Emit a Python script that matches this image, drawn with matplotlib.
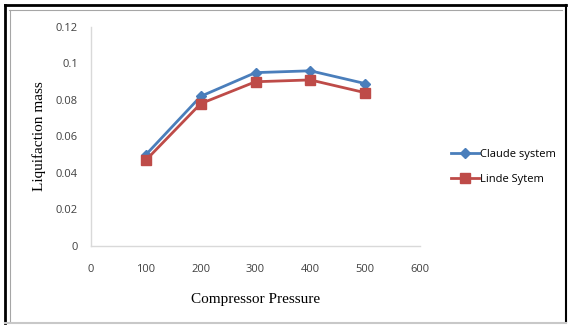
import matplotlib
matplotlib.use('Agg')
import matplotlib.pyplot as plt
from matplotlib.lines import Line2D

# data
pressure = [100, 200, 300, 400, 500]
claude = [0.050, 0.082, 0.095, 0.096, 0.089]
linde = [0.047, 0.078, 0.090, 0.091, 0.084]
x_ticks = [0, 100, 200, 300, 400, 500, 600]
y_ticks = [0, 0.02, 0.04, 0.06, 0.08, 0.1, 0.12]
y_tick_labels = ['0', '0.02', '0.04', '0.06', '0.08', '0.1', '0.12']

blue = '#4A7EBB'
red = '#BE4B48'
grey = '#D9D9D9'

W, H = 569, 326
fig = plt.figure(figsize=(W / 100, H / 100), dpi=100)


def fline(x0, y0, x1, y1, **kw):
    # line in pixel coords (origin top-left)
    fig.lines.append(Line2D([x0 / W, x1 / W], [1 - y0 / H, 1 - y1 / H],
                            transform=fig.transFigure, **kw))


# outer black frame (top, left, right) and grey bottom
fline(4.5, 5, 566, 5, color='black', linewidth=2)
fline(5, 5, 5, 323, color='black', linewidth=2)
fline(566, 5, 566, 322, color='black', linewidth=1.5)
fline(4.5, 322.5, 566, 322.5, color='#C8C8C8', linewidth=1.5)
# inner grey frame
fline(9, 10, 562, 10, color='#A6A6A6', linewidth=0.8)
fline(9.5, 10, 9.5, 321, color='#A6A6A6', linewidth=0.8)

ax = fig.add_axes([91 / W, 1 - 246 / H, 329 / W, 219 / H])

ax.plot(pressure, claude, color=blue, linewidth=2, marker='D', markersize=5,
        label='Claude system')
ax.plot(pressure, linde, color=red, linewidth=2, marker='s', markersize=7.5,
        label='Linde Sytem')

ax.set_xlim(0, 600)
ax.set_ylim(0, 0.12)
ax.set_xticks(x_ticks)
ax.set_yticks(y_ticks)
ax.set_yticklabels(y_tick_labels)
ax.tick_params(length=0, labelsize=8, labelcolor='#404040')
ax.tick_params(axis='y', pad=9.5)
ax.tick_params(axis='x', pad=13)
for lab in ax.get_xticklabels() + ax.get_yticklabels():
    lab.set_fontfamily('Open Sans')

for side in ['top', 'right']:
    ax.spines[side].set_visible(False)
for side in ['left', 'bottom']:
    ax.spines[side].set_color(grey)
    ax.spines[side].set_linewidth(1)

ax.set_xlabel('Compressor Pressure', family='Liberation Serif', fontsize=11,
              labelpad=13)
ax.set_ylabel('Liquifaction mass', family='Liberation Serif', fontsize=11,
              labelpad=7)

ax.legend(loc='center left', bbox_to_anchor=(1.065, 0.36), frameon=False,
          prop={'family': 'Open Sans', 'size': 8}, handlelength=2.5,
          handletextpad=0.1, labelspacing=1.25)

plt.savefig('out.png', dpi=100)
